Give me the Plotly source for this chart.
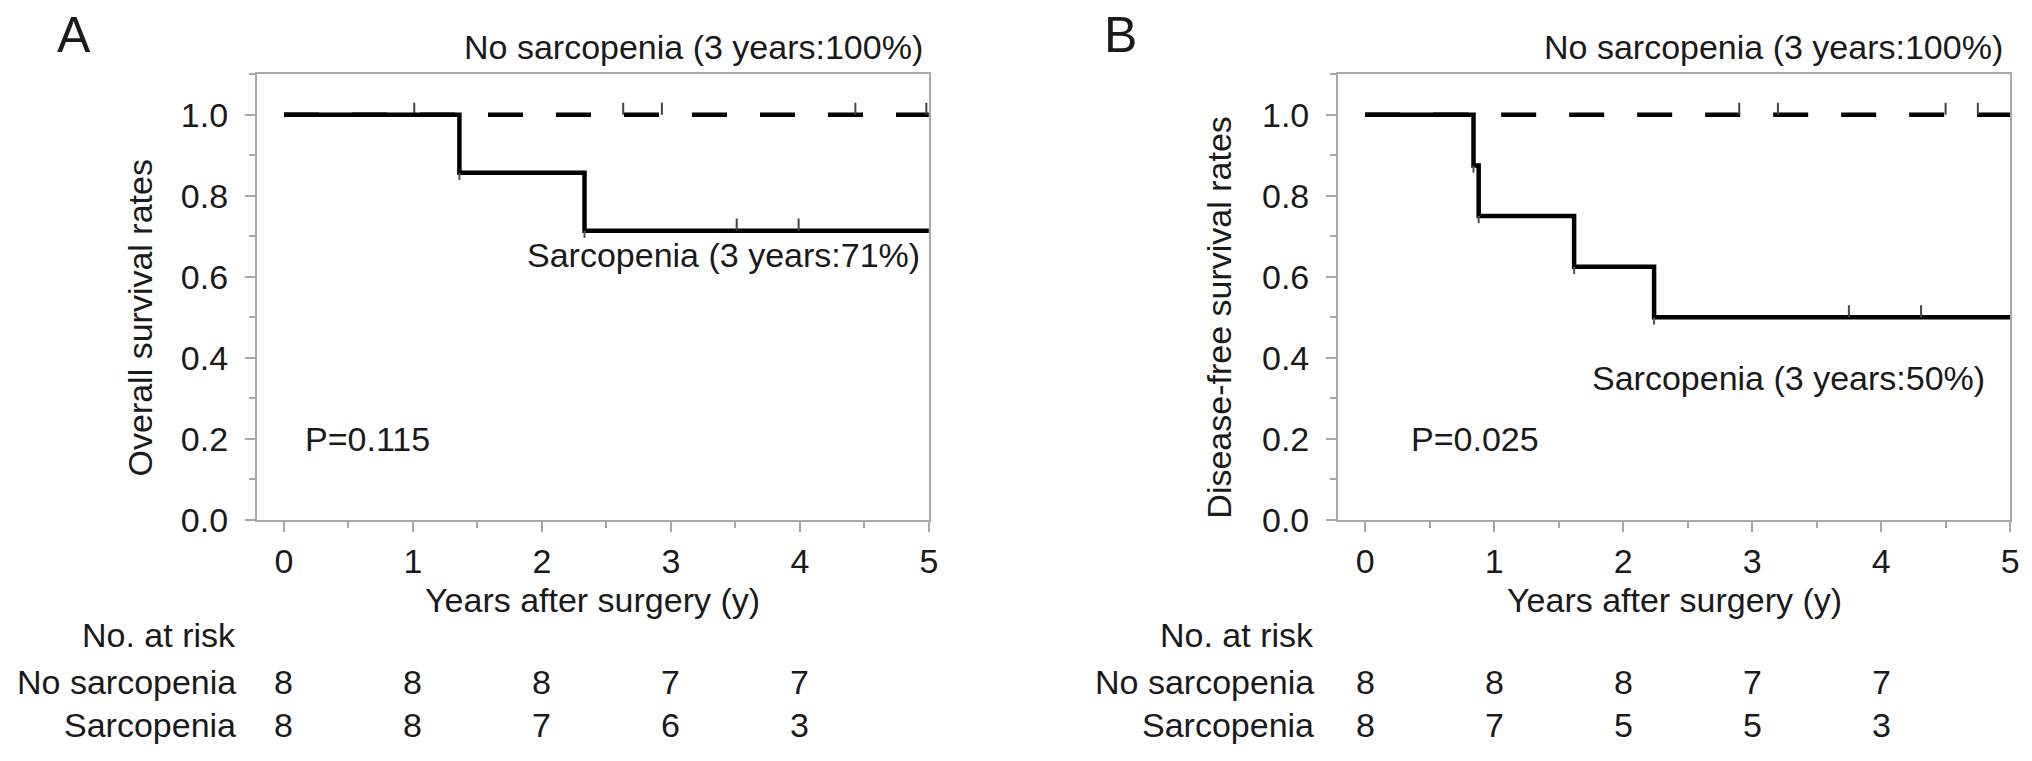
import plotly.graph_objects as go

# ---------------- data ----------------
years_ticks = [0, 1, 2, 3, 4, 5]
risk_times = [0, 1, 2, 3, 4]

# Panel A: overall survival
a_no_t = [0, 5]
a_no_s = [1.0, 1.0]
a_no_cens = [1.01, 2.63, 2.93, 4.43, 4.98]
a_sar_t = [0, 1.36, 2.33, 5]
a_sar_s = [1.0, 0.857, 0.714, 0.714]
a_sar_cens = [3.51, 3.99]
a_sar_cens_s = [0.714, 0.714]
a_risk_no = [8, 8, 8, 7, 7]
a_risk_sar = [8, 8, 7, 6, 3]

# Panel B: disease-free survival
b_no_t = [0, 5]
b_no_s = [1.0, 1.0]
b_no_cens = [2.9, 3.2, 4.5, 4.75]
b_sar_t = [0, 0.84, 0.88, 1.62, 2.24, 5]
b_sar_s = [1.0, 0.875, 0.75, 0.625, 0.5, 0.5]
b_sar_cens = [3.75, 4.31]
b_sar_cens_s = [0.5, 0.5]
b_risk_no = [8, 8, 8, 7, 7]
b_risk_sar = [8, 7, 5, 5, 3]

FONT = "Liberation Sans, Arial, Helvetica, sans-serif"
TXT = "#1a1a1a"
AX = "#a8a8a8"
FS = 34

fig = go.Figure()


def censor_trace(times, levels, xa, ya, length=0.03):
    xs, ys = [], []
    for t, s in zip(times, levels):
        xs += [t, t, None]
        ys += [s, s + length, None]
    return go.Scatter(x=xs, y=ys, mode="lines", xaxis=xa, yaxis=ya,
                      line=dict(color="#444", width=2), hoverinfo="skip",
                      showlegend=False)


def corner_trace(times, levels, xa, ya, length=0.018):
    xs, ys = [], []
    for t, s in zip(times, levels):
        xs += [t, t, None]
        ys += [s, s - length, None]
    return go.Scatter(x=xs, y=ys, mode="lines", xaxis=xa, yaxis=ya,
                      line=dict(color="#555", width=2), hoverinfo="skip",
                      showlegend=False)


panels = [
    ("x", "y", a_no_t, a_no_s, a_no_cens, a_sar_t, a_sar_s, a_sar_cens, a_sar_cens_s),
    ("x2", "y2", b_no_t, b_no_s, b_no_cens, b_sar_t, b_sar_s, b_sar_cens, b_sar_cens_s),
]

for xa, ya, nt, ns, nc, st, ss, sc, scs in panels:
    fig.add_trace(go.Scatter(x=nt, y=ns, mode="lines", xaxis=xa, yaxis=ya,
                             line=dict(color="black", width=4.5, dash="35px,33px"),
                             line_shape="hv", showlegend=False, name="No sarcopenia"))
    fig.add_trace(censor_trace(nc, [ns[0]] * len(nc), xa, ya))
    fig.add_trace(go.Scatter(x=st, y=ss, mode="lines", xaxis=xa, yaxis=ya,
                             line=dict(color="black", width=4.5),
                             line_shape="hv", showlegend=False, name="Sarcopenia"))
    fig.add_trace(censor_trace(sc, scs, xa, ya))
    fig.add_trace(corner_trace(st[1:-1], ss[1:-1], xa, ya))

xaxis_common = dict(range=[-0.21, 5], tickvals=years_ticks, ticks="outside", ticklen=10,
                    tickwidth=2, tickcolor=AX, showline=True, linecolor=AX, linewidth=2,
                    mirror=True, showgrid=False, zeroline=False,
                    tickfont=dict(family=FONT, size=FS, color=TXT),
                    minor=dict(dtick=0.5, ticks="outside", ticklen=6, tickwidth=2, tickcolor=AX,
                               showgrid=False),
                    fixedrange=True)
yaxis_common = dict(range=[0, 1.1], tickvals=[0, 0.2, 0.4, 0.6, 0.8, 1.0], tickformat=".1f",
                    ticks="outside", ticklen=10, tickwidth=2, tickcolor=AX,
                    showline=True, linecolor=AX, linewidth=2, mirror=True,
                    showgrid=False, zeroline=False, ticklabelstandoff=10,
                    tickfont=dict(family=FONT, size=FS, color=TXT),
                    minor=dict(dtick=0.1, ticks="outside", ticklen=6, tickwidth=2, tickcolor=AX,
                               showgrid=False),
                    fixedrange=True)

W, H = 2032, 761
fig.update_layout(
    width=W, height=H, margin=dict(l=0, r=0, t=0, b=0),
    paper_bgcolor="white", plot_bgcolor="white",
    font=dict(family=FONT, size=FS, color=TXT),
    xaxis=dict(domain=[250 / W, 925 / W], anchor="y", **xaxis_common),
    yaxis=dict(domain=[1 - 525 / H, 1 - 68 / H], anchor="x", **yaxis_common),
    xaxis2=dict(domain=[1336 / W, 2011 / W], anchor="y2", **xaxis_common),
    yaxis2=dict(domain=[1 - 525 / H, 1 - 68 / H], anchor="x2", **yaxis_common),
    showlegend=False,
)

ann = []


def A(**kw):
    d = dict(showarrow=False, font=dict(family=FONT, size=FS, color=TXT))
    d.update(kw)
    ann.append(d)


# panel letters
A(text="A", xref="paper", yref="paper", x=66 / W, y=1 - 28 / H, xanchor="center",
  yanchor="middle", font=dict(family=FONT, size=50, color=TXT))
A(text="B", xref="paper", yref="paper", x=1117 / W, y=1 - 28 / H, xanchor="center",
  yanchor="middle", font=dict(family=FONT, size=50, color=TXT))

# curve labels
A(text="No sarcopenia (3 years:100%)", xref="x", yref="paper", x=4.97, y=1 - 40 / H,
  xanchor="right", yanchor="middle")
A(text="Sarcopenia (3 years:71%)", xref="x", yref="y", x=4.95, y=0.653,
  xanchor="right", yanchor="middle")
A(text="P=0.115", xref="x", yref="y", x=0.15, y=0.2, xanchor="left", yanchor="middle")
A(text="No sarcopenia (3 years:100%)", xref="x2", yref="paper", x=4.96, y=1 - 40 / H,
  xanchor="right", yanchor="middle")
A(text="Sarcopenia (3 years:50%)", xref="x2", yref="y2", x=4.82, y=0.35,
  xanchor="right", yanchor="middle")
A(text="P=0.025", xref="x2", yref="y2", x=0.34, y=0.2, xanchor="left", yanchor="middle")

# axis titles
A(text="Overall survival rates", xref="paper", yref="paper", x=133 / W, y=1 - 318 / H,
  textangle=-90, xanchor="center", yanchor="middle")
A(text="Disease-free survival rates", xref="paper", yref="paper", x=1216 / W, y=1 - 318 / H,
  textangle=-90, xanchor="center", yanchor="middle")
A(text="Years after surgery (y)", xref="x domain", yref="paper", x=0.5, y=1 - 607 / H,
  xanchor="center", yanchor="middle")
A(text="Years after surgery (y)", xref="x2 domain", yref="paper", x=0.5, y=1 - 607 / H,
  xanchor="center", yanchor="middle")

# number at risk
for right, xr, rno, rsar in [(231, "x", a_risk_no, a_risk_sar), (1314, "x2", b_risk_no, b_risk_sar)]:
    A(text="No. at risk", xref="paper", yref="paper", x=right / W, y=1 - 643 / H,
      xanchor="right", yanchor="middle")
    A(text="No sarcopenia", xref="paper", yref="paper", x=right / W, y=1 - 691 / H,
      xanchor="right", yanchor="middle")
    A(text="Sarcopenia", xref="paper", yref="paper", x=right / W, y=1 - 735 / H,
      xanchor="right", yanchor="middle")
    for t, n1, n2 in zip(risk_times, rno, rsar):
        A(text=str(n1), xref=xr, yref="paper", x=t, y=1 - 691 / H, xanchor="center",
          yanchor="middle")
        A(text=str(n2), xref=xr, yref="paper", x=t, y=1 - 735 / H, xanchor="center",
          yanchor="middle")

fig.update_layout(annotations=ann)
fig.write_html("out.html")
